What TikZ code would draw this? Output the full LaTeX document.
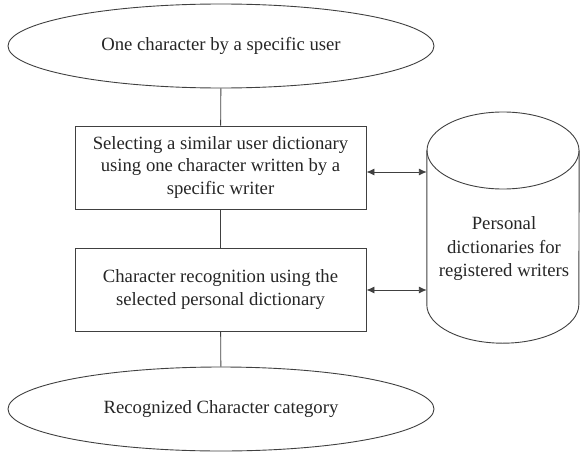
\documentclass[tikz,border=0pt]{standalone}
\usepackage{fontspec}
\setmainfont{Liberation Serif}
\usetikzlibrary{shapes.geometric,arrows.meta}
\tikzset{
  ln/.style={draw=black!75, line width=0.9pt},
  term/.style={ln, ellipse, minimum width=426pt, minimum height=84pt, inner sep=0pt, text=black!85, font=\fontsize{18.7}{21}\selectfont},
  proc/.style={ln, rectangle, minimum width=291pt, minimum height=83pt, inner sep=0pt, align=center, text=black!85, font=\fontsize{18.7}{22.5}\selectfont},
  dbtext/.style={rectangle, minimum width=152pt, minimum height=231pt, inner sep=0pt},
  biarrow/.style={ln, {Latex[length=8pt,width=7pt]}-{Latex[length=8pt,width=7pt]}}
}
\begin{document}
\begin{tikzpicture}[x=1pt,y=1pt]
\useasboundingbox (0,0) rectangle (580,-452);
\node[term] (start) at (221,-46) {One character by a specific user};
\node[proc] (sel) at (220.5,-167.5) {Selecting a similar user dictionary\\using one character written by a\\specific writer};
\node[proc] (rec) at (220.5,-289.5) {Character recognition using the\\selected personal dictionary};
\node[term] (end) at (221,-409) {Recognized Character category};
\node[dbtext] (db) at (503,-227.5) {};
% cylinder
\path (db.north west) ++(0,-38.5) coordinate (tl)
  (db.south west) ++(0,38.5) coordinate (bl)
  (db.north east) ++(0,-38.5) coordinate (tr)
  (db.south east) ++(0,38.5) coordinate (br);
\draw[ln] (503,-150.5) ellipse [x radius=76, y radius=38.5];
\draw[ln] (tl) -- (bl) arc[start angle=180, end angle=360, x radius=76, y radius=38.5] -- (tr);
\node[font=\fontsize{18.7}{23.5}\selectfont, align=center, text=black!85] (dblabel) at (504,-249) {Personal\\dictionaries for\\registered writers};
\draw[ln] (start) -- (sel);
\draw[ln] (sel) -- (rec);
\draw[ln] (rec) -- (end);
\draw[biarrow] (sel.east |- 0,-172) coordinate (a1) -- (tl |- a1);
\draw[biarrow] (rec.east |- 0,-290) coordinate (a2) -- (tl |- a2);
\end{tikzpicture}
\end{document}
